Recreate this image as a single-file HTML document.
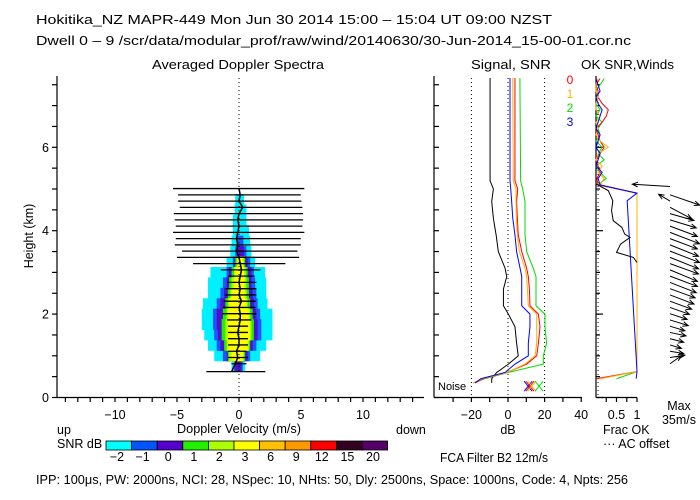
<!DOCTYPE html>
<html><head><meta charset="utf-8"><style>
html,body{margin:0;padding:0;background:#fff;}
svg{display:block;font-family:"Liberation Sans",sans-serif;}
</style></head><body>
<svg id="chart" width="700" height="500" viewBox="0 0 700 500" xmlns="http://www.w3.org/2000/svg">
<rect width="700" height="500" fill="#fff"/>
<g font-size="12.5" fill="#000">
<text x="36" y="24" textLength="516" lengthAdjust="spacingAndGlyphs">Hokitika_NZ  MAPR-449  Mon Jun 30 2014 15:00 – 15:04 UT 09:00 NZST</text>
<text x="36" y="45" textLength="595" lengthAdjust="spacingAndGlyphs">Dwell  0 –  9   /scr/data/modular_prof/raw/wind/20140630/30-Jun-2014_15-00-01.cor.nc</text>
<text x="152" y="69" textLength="172" lengthAdjust="spacingAndGlyphs">Averaged Doppler Spectra</text>
<text x="471" y="69" textLength="80" lengthAdjust="spacingAndGlyphs">Signal, SNR</text>
<text x="581" y="69" textLength="93" lengthAdjust="spacingAndGlyphs">OK SNR,Winds</text>
<text transform="translate(33,236) rotate(-90)" text-anchor="middle">Height (km)</text>
<text x="239" y="433" text-anchor="middle" textLength="124" lengthAdjust="spacingAndGlyphs">Doppler Velocity (m/s)</text>
<text x="57" y="434">up</text>
<text x="396" y="434">down</text>
<text x="508" y="434" text-anchor="middle">dB</text>
<text x="603" y="434">Frac OK</text>
<text x="603" y="448">··· AC offset</text>
<text x="679" y="410" text-anchor="middle">Max</text>
<text x="679" y="424" text-anchor="middle">35m/s</text>
<text x="57" y="448">SNR dB</text>
<text x="440" y="462" textLength="108" lengthAdjust="spacingAndGlyphs">FCA Filter B2 12m/s</text>
<text x="36" y="484" textLength="592" lengthAdjust="spacingAndGlyphs">IPP: 100μs,  PW: 2000ns,  NCI:  28,  NSpec: 10, NHts: 50,  Dly: 2500ns,  Space: 1000ns,  Code: 4,  Npts: 256</text>
<text x="438" y="390" font-size="11">Noise</text>
</g>
<g id="plots"></g>
</svg>
<script>
// ---------- data ----------
const specH = [0.75,1.0,1.25,1.5,1.75,2.0,2.25,2.5,2.75,3.0,3.25,3.5,3.75,4.0,4.25,4.5,4.75,5.0];
const cyanL = [-0.6,-2.0,-2.5,-2.8,-3.0,-3.0,-2.9,-2.5,-2.5,-2.3,-1.0,-0.7,-0.6,-0.5,-0.5,-0.35,-0.3,null];
const cyanR = [0.5,1.7,2.2,2.7,2.7,2.7,2.3,2.2,2.2,2.1,1.3,1.0,0.9,0.8,0.6,0.6,0.4,null];
const blueL = [-0.4,-1.3,-1.8,-2.0,-2.1,-2.1,-1.8,-1.5,-1.3,-1.0,-0.5,-0.3,-0.15,null,null,null,null,null];
const blueR = [0.3,0.9,1.4,1.8,1.8,1.7,1.5,1.4,1.3,1.2,0.9,0.6,0.35,null,null,null,null,null];
const purpL = [-0.3,-1.0,-1.5,-1.7,-1.8,-1.8,-1.5,-1.2,-1.0,-0.8,-0.35,-0.15,null,null,null,null,null,null];
const purpR = [0.2,0.7,1.1,1.5,1.5,1.4,1.2,1.1,1.0,1.0,0.7,0.4,null,null,null,null,null,null];
const greenL = [null,-0.9,-1.2,-1.4,-1.4,-1.3,-1.1,-0.9,-0.8,-0.6,-0.3,null,null,null,null,null,null,null];
const greenR = [null,0.5,0.9,1.2,1.2,1.1,0.9,0.8,0.8,0.7,0.5,null,null,null,null,null,null,null];
const ygL = [null,-0.8,-1.0,-1.1,-1.1,-1.0,-0.9,-0.7,-0.6,-0.4,-0.2,null,null,null,null,null,null,null];
const ygR = [null,0.4,0.8,1.0,1.0,0.9,0.7,0.6,0.6,0.55,0.4,null,null,null,null,null,null,null];
const yelL = [null,-0.6,-0.9,-0.9,-0.9,-0.9,-0.8,-0.6,-0.4,-0.3,-0.1,null,null,null,null,null,null,null];
const yelR = [null,0.3,0.7,0.9,0.9,0.8,0.6,0.5,0.45,0.4,0.3,null,null,null,null,null,null,null];
// width bars, top gate first
const barH = [5.01,4.86,4.71,4.56,4.41,4.26,4.11,3.96,3.81,3.66,3.51,3.36,3.21,3.06,2.91,2.76,2.61,2.46,2.31,2.16,2.01,1.86,1.71,1.56,1.41,1.26,1.11,0.96,0.81,0.62];
const barLo = [-5.32,-4.91,-4.91,-4.78,-5.26,-5.18,-5.1,-5.32,-5.1,-5.18,-4.59,-5.0,-3.7,-1.47,-0.88,-0.96,-1.07,-1.15,-1.23,-1.28,-1.34,-0.96,-0.88,-0.88,-0.88,-0.88,-0.88,-0.88,-0.61,-2.63];
const barHi = [5.27,4.98,5.03,5.11,5.17,5.17,5.11,5.27,4.98,4.98,4.71,4.85,3.74,1.73,1.27,1.4,1.4,1.4,1.35,1.32,1.4,1.0,0.73,0.73,0.73,0.73,0.6,0.73,0.6,2.13];
const meanV = [0.0,0.1,0.0,0.3,0.0,-0.1,0.0,-0.1,-0.2,-0.1,-0.2,0.0,0.1,0.2,0.1,0.0,0.1,0.0,0.2,0.0,0.1,0.1,0.0,-0.1,0.0,0.0,-0.2,-0.1,-0.3,-0.6];
// signal / SNR profiles
const sigH = [7.7,5.2,5.0,4.7,4.3,3.9,3.5,3.1,2.9,2.6,2.2,2.0,1.7,1.3,1.0,0.8,0.6,0.45,0.35];
const sigBlack = [-9.8,-9.8,-8.0,-8.9,-8.0,-6.5,-5.3,-1.6,-0.7,-2.5,-2.5,0.2,3.8,4.7,5.6,0.2,-6.2,-8.9,-8.9];
const snrRed = [3.8,3.8,5.3,4.7,5.1,5.6,7.5,10.2,11.1,11.7,12.0,16.6,17.5,16.6,15.7,10.2,-0.7,-13.4,-18];
const snrOrange = [2.6,2.9,4.4,4.4,4.6,5.1,6.2,9.3,10.2,10.6,11.1,15.7,15.7,15.7,14.8,9.3,-0.7,-14,-19];
const snrGreen = [6.5,6.9,8.0,9.3,9.3,9.3,10.2,13.8,15.3,15.3,15.3,20.2,20.2,21.1,19.3,19.3,0,-12.7,-19];
const snrBlue = [1.1,1.1,1.5,2.0,2.6,3.8,4.7,6.6,7.5,7.5,7.5,12.0,12.0,11.1,11.1,3.8,-1.6,-14.9,-18];
const noiseDb = [11,12,13,17];
// fraction OK
const fracH = [0.45,0.62,4.72,4.9,5.1,5.25,5.4,5.55,5.7,5.85,6.0,6.15,6.3,6.45,6.6,6.75,6.9,7.05,7.2,7.35,7.5,7.65];
const fracRed = [0.0,1,1,1,0.05,0.02,0.1,0.05,0.0,0.1,0.2,0.1,0.05,0.0,0.15,0.25,0.3,0.15,0.05,0.05,0.0,0.1];
const fracOrange = [0.1,1,1,1,0.1,0.2,0.05,0.15,0.0,0.05,0.3,0.1,0.0,0.05,0.0,0.1,0.0,0.0,0.05,0.0,0.0,0.05];
const fracGreen = [0.5,1,1,1,0.05,0.25,0.1,0.0,0.2,0.05,0.15,0.0,0.1,0.05,0.15,0.0,0.1,0.0,0.05,0.0,0.1,0.2];
const fracBlue = [0.98,1,0.76,1,0.1,0.05,0.15,0.0,0.05,0.1,0.0,0.05,0.1,0.0,0.05,0.1,0.15,0.05,0.0,0.1,0.05,0.0];
const acH = [5.12,4.96,4.72,4.48,4.24,4.08,3.92,3.84,3.68,3.48,3.36,3.24];
const acFrac = [0.0,0.3,0.41,0.38,0.42,0.63,0.7,0.83,0.6,0.5,0.91,1.0];
// winds (m/s), bottom gate first
const windH = [0.81,0.96,1.11,1.26,1.41,1.56,1.71,1.86,2.01,2.16,2.31,2.46,2.61,2.76,2.91,3.06,3.21,3.36,3.51,3.66,3.81,3.96,4.11,4.26,4.41,4.56,4.71,4.86,5.06];
const windU = [10,13,12,10,12,14,13,16,15,17,19,21,22,23,24,24,25,25,26,25,24,26,24,23,21,19,-10,26,-33];
const windV = [7,2,-2,-3,-3,-3,-4,-5,-5,-6,-7,-8,-8,-9,-9,-10,-9,-10,-10,-10,-9,-10,-9,-7,-6,-10,6,-9,2];
const cbLabels = ['-2','-1','0','1','2','3','6','9','12','15','20'];
const cbColors = ['#00ffff','#0055ff','#5500cc','#22ee00','#aaff00','#ffff00','#ffc000','#ff9900','#ff0000','#330022','#550066'];
const velTicks = [-10,-5,0,5,10];
const hTicks = [0,2,4,6];
const dbTicks = [-20,0,20,40];

// ---------- scales ----------
const Y0 = 397.5;
const X = v => 239 + 12.4*v;
const Y = h => Y0 - 41.7*h;
const S = d => 508 + 1.83*d;
const F = f => 596 + 41*f;
const NS = 'http://www.w3.org/2000/svg';
const root = document.getElementById('plots');
function mk(tag, attrs){ const e=document.createElementNS(NS,tag); for(const k in attrs) e.setAttribute(k,attrs[k]); root.appendChild(e); return e; }

// spectra bands
const levels = [[cyanL,cyanR,'#00f0ff','cyan'],[blueL,blueR,'#1f55ff','blue'],[purpL,purpR,'#4a10cc','purple'],[greenL,greenR,'#22ee00','green'],[ygL,ygR,'#aaff00','yellowgreen'],[yelL,yelR,'#ffff00','yellow']];
levels.forEach(([L,R,c,nm])=>{
  specH.forEach((h,i)=>{
    if(L[i]===null) return;
    const r = mk('rect',{x:X(L[i]),y:Y(h+0.13),width:X(R[i])-X(L[i]),height:41.7*0.26,fill:c});
    
    
  });
});
let z = mk('line',{x1:X(0),x2:X(0),y1:78,y2:Y0,stroke:'#000','stroke-dasharray':'1,3'});


barH.forEach((h,i)=>{
  const b = mk('line',{x1:X(barLo[i]),x2:X(barHi[i]),y1:Y(h),y2:Y(h),stroke:'#000','stroke-width':1.3});
  
  
});
let mp = barH.map((h,i)=>X(meanV[i])+','+Y(h)).join(' ');
let ml = mk('polyline',{points:mp,fill:'none',stroke:'#000','stroke-width':1.5});



function line(x1,y1,x2,y2,name,extra){ const l=mk('line',Object.assign({x1,y1,x2,y2,stroke:'#000','stroke-width':1.2},extra||{}));   return l; }
function txt(x,y,s,name,anchor){ const t=mk('text',{x,y,'font-size':12.5,'text-anchor':anchor||'middle'}); t.textContent=s;   return t; }

// main axes
line(57,76,57,Y0,'spectra-y-axis');
line(57,Y0,424,Y0,'spectra-x-axis');
for(let h=0;h<=7.5;h+=0.5) line(52,Y(h),57,Y(h),'y-tick');
hTicks.forEach(h=>txt(49,Y(h)+4.5,String(h),'y-tick-label','end'));
for(let v=-14;v<=14;v++) line(X(v),Y0,X(v),Y0+4.5,'x-tick');
velTicks.forEach(v=>txt(X(v),419,v<0?'−'+(-v):String(v),'x-tick-label'));

// signal panel
line(434,76,434,Y0,'signal-y-axis');
line(434,Y0,582,Y0,'signal-x-axis');
for(let h=0;h<=7.5;h+=0.5) line(434,Y(h),439,Y(h),'signal-y-tick');
for(let d=-30;d<=40;d+=10) line(S(d),Y0,S(d),Y0+4.5,'signal-x-tick');
dbTicks.forEach(d=>txt(S(d),419,d<0?'−'+(-d):String(d),'db-tick-label'));
[-20,0,20].forEach(d=>line(S(d),78,S(d),Y0,'signal-ref-line',{'stroke-dasharray':'1,3','stroke-width':1}));
const sig = [[sigBlack,'#000','signal-line'],[snrGreen,'#00dd00','snr-beam-2'],[snrRed,'#ff0000','snr-beam-0'],[snrOrange,'#ffb000','snr-beam-1'],[snrBlue,'#0000ff','snr-beam-3']];
sig.forEach(([arr,c,nm])=>{
  const p = mk('polyline',{points:sigH.map((h,i)=>S(arr[i])+','+Math.max(78,Y(h))).join(' '),fill:'none',stroke:c,'stroke-width':1});
  
  
});
const ncol=['#0000ff','#ff0000','#ffb000','#00dd00'];
noiseDb.forEach((d,i)=>{
  const x=S(d), y=Y(0.27);
  const a=mk('path',{d:`M${x-4},${y-5}L${x+4},${y+5}M${x+4},${y-5}L${x-4},${y+5}`,stroke:ncol[i],'stroke-width':1,fill:'none'});
  
  
});
['0','1','2','3'].forEach((s,i)=>{
  const t=mk('text',{x:570,y:84+14*i,'font-size':12,'text-anchor':'middle',fill:['#ff0000','#ffb000','#00dd00','#0000ff'][i]});
  t.textContent=s;
  
  
});

// winds panel
line(596,76,596,Y0,'frac-y-axis');
line(596,Y0,637,Y0,'frac-x-axis');
for(let h=0;h<=7.5;h+=0.5) line(596,Y(h),h%2===0?603:600,Y(h),'frac-y-tick');
[0.25,0.5,0.75,1].forEach(f=>line(F(f),Y0,F(f),Y0+4.5,'frac-x-tick'));
txt(F(0.5),419,'0.5','frac-tick-label');
txt(F(1),419,'1','frac-tick-label');
line(F(0.05),90,F(0.05),Y0,'ac-offset-ref',{'stroke-dasharray':'1,3','stroke-width':1});
const fr = [[fracGreen,'#00dd00','frac-beam-2'],[fracRed,'#ff0000','frac-beam-0'],[fracOrange,'#ffb000','frac-beam-1'],[fracBlue,'#0000ff','frac-beam-3']];
fr.forEach(([arr,c,nm])=>{
  const p = mk('polyline',{points:fracH.map((h,i)=>F(arr[i])+','+Math.max(78,Y(h))).join(' '),fill:'none',stroke:c,'stroke-width':1});
  
  
});
const ac = mk('polyline',{points:acH.map((h,i)=>F(acFrac[i])+','+Y(h)).join(' '),fill:'none',stroke:'#000','stroke-width':1});


const WK = 40/35;
windH.forEach((h,i)=>{
  const x0=670, y0=Y(h);
  const x1=x0+windU[i]*WK, y1=y0-windV[i]*WK;
  const ang=Math.atan2(y1-y0,x1-x0), hl=6;
  const d=`M${x0},${y0}L${x1},${y1}M${x1-hl*Math.cos(ang-0.4)},${y1-hl*Math.sin(ang-0.4)}L${x1},${y1}L${x1-hl*Math.cos(ang+0.4)},${y1-hl*Math.sin(ang+0.4)}`;
  const a=mk('path',{d,stroke:'#000','stroke-width':1,fill:'none'});
  
  
});

// colorbar
cbColors.forEach((c,i)=>{
  const r=mk('rect',{x:106+25.6*i,y:441,width:25.6,height:9,fill:c,stroke:'#000','stroke-width':0.8});
  
  
  txt(106+25.6*i+11,461,cbLabels[i].replace('-','−'),'colorbar-label');
});
</script>
</body></html>
